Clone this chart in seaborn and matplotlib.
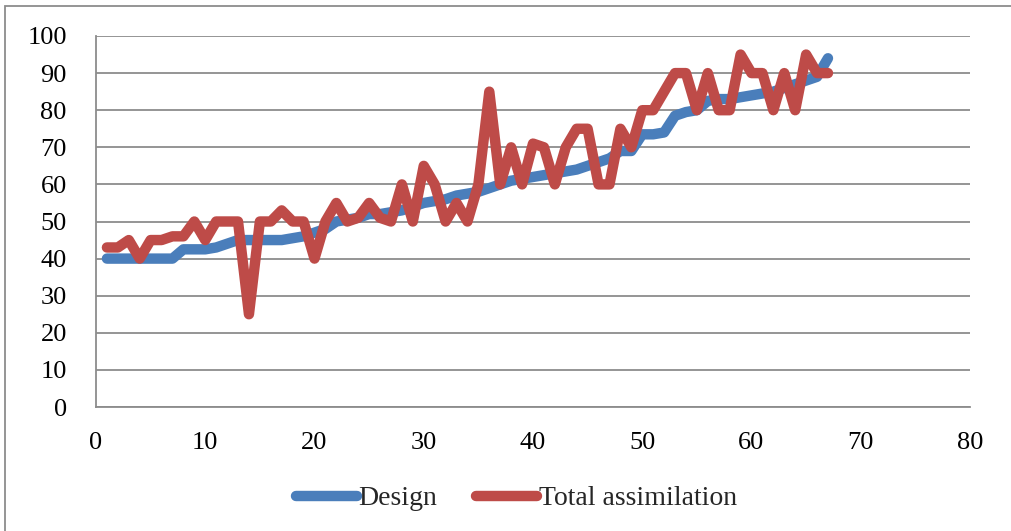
import numpy as np
import pandas as pd
import matplotlib
matplotlib.use("Agg")
import matplotlib.pyplot as plt
from matplotlib.patches import Rectangle
import seaborn as sns

# ---- Data ----
x_vals = list(range(1, 68))
design = [40, 40, 40, 40, 40, 40, 40, 42.5, 42.5, 42.5,
          43, 44, 45, 45, 45, 45, 45, 45.5, 46, 47,
          48, 50, 50.5, 51, 52, 52, 52.5, 53, 54, 55,
          55.5, 56, 57, 57.5, 58, 59, 60, 61, 61.5, 62,
          62.5, 63, 63.5, 64, 65, 66, 67, 69, 69, 73.5,
          73.5, 74, 78.5, 79.5, 80, 82.5, 83, 83, 83.5, 84,
          84.5, 85, 86, 87, 88, 89, 94]
total_assim = [43, 43, 45, 40, 45, 45, 46, 46, 50, 45,
               50, 50, 50, 25, 50, 50, 53, 50, 50, 40,
               50, 55, 50, 51, 55, 51, 50, 60, 50, 65,
               60, 50, 55, 50, 60, 85, 60, 70, 60, 71,
               70, 60, 70, 75, 75, 60, 60, 75, 70, 80,
               80, 85, 90, 90, 80, 90, 80, 80, 95, 90,
               90, 80, 90, 80, 95, 90, 90]
series_names = ["Design", "Total assimilation"]
colors = ["#4a7ebb", "#be4b48"]

df = pd.concat([
    pd.DataFrame({"x": x_vals, "y": design, "series": series_names[0]}),
    pd.DataFrame({"x": x_vals, "y": total_assim, "series": series_names[1]}),
])

# ---- Plot ----
sns.set_style("white")
plt.rcParams["font.family"] = ["Liberation Serif", "DejaVu Serif"]

fig = plt.figure(figsize=(10.11, 5.31), dpi=100)
ax = fig.add_axes([96 / 1011, 1 - 407 / 531, (970 - 96) / 1011, (407 - 36) / 531])

sns.lineplot(data=df, x="x", y="y", hue="series", palette=colors,
             linewidth=7.5, ax=ax, legend=True, solid_capstyle="round",
             solid_joinstyle="round")

ax.set_xlim(0, 80)
ax.set_ylim(0, 100)
ax.set_xticks(range(0, 81, 10))
ax.set_yticks(range(0, 101, 10))
ax.set_xlabel("")
ax.set_ylabel("")
ax.grid(axis="y", color="#8c8c8c", linewidth=1.3)
ax.set_axisbelow(True)
for s in ["top", "right"]:
    ax.spines[s].set_visible(False)
for s in ["left", "bottom"]:
    ax.spines[s].set_color("#8c8c8c")
    ax.spines[s].set_linewidth(1.3)
ax.tick_params(axis="both", which="major", direction="out", length=7,
               width=1.3, color="#8c8c8c", labelsize=19, labelcolor="black")
ax.tick_params(axis="x", pad=11)
ax.tick_params(axis="y", pad=14)

leg = ax.legend(loc="center", bbox_to_anchor=(0.481, -0.247), ncol=2, frameon=False,
                fontsize=20, handlelength=2.2, handletextpad=0.05, columnspacing=1.4)
for h in leg.get_lines():
    h.set_linewidth(7.5)
    h.set_solid_capstyle("round")

# chart area border
fig.patches.append(Rectangle((5 / 1011, -0.1), 1.2, 1.1 - 6 / 531,
                             transform=fig.transFigure, fill=False,
                             edgecolor="#8c8c8c", linewidth=1.3))

fig.savefig("out.png", dpi=100)
